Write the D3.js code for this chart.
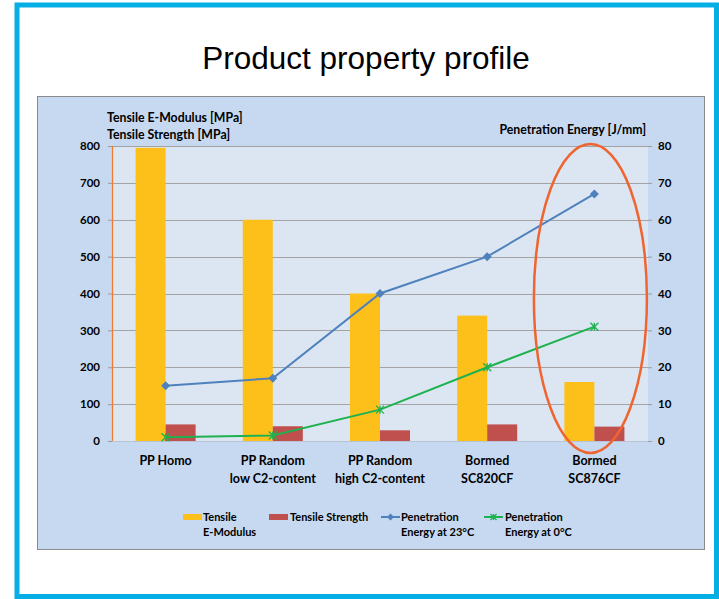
<!DOCTYPE html>
<html><head><meta charset="utf-8">
<script src="https://cdn.jsdelivr.net/npm/d3@7"></script>
<style>
html,body{margin:0;padding:0;background:#fff;}
svg{display:block;}
</style></head>
<body>
<svg id="c" width="719" height="599"></svg>
<script>
const categories = [["PP Homo"], ["PP Random","low C2-content"], ["PP Random","high C2-content"], ["Bormed","SC820CF"], ["Bormed","SC876CF"]];
const modulus = [795, 600, 400, 340, 160];
const strength = [45, 40, 29, 45, 39];
const pen23 = [15, 17, 40, 50, 67];
const pen0 = [1, 1.5, 8.5, 20, 31];
const leftTicks = [0,100,200,300,400,500,600,700,800];
const rightTicks = [0,10,20,30,40,50,60,70,80];

const FONT = "Lato, 'DejaVu Sans', sans-serif";
const svg = d3.select("#c");

// outer blue frame
svg.append("rect").attr("x",17).attr("y",5).attr("width",699.5).attr("height",591.5)
  .attr("fill","#fff").attr("stroke","#06aee6").attr("stroke-width",5);
svg.append("text").attr("x",366).attr("y",69).attr("text-anchor","middle")
  .attr("font-family","Arial, 'Liberation Sans', sans-serif").attr("font-size",31.5).attr("fill","#000")
  .text("Product property profile");

// chart panel
svg.append("rect").attr("x",37.5).attr("y",96.5).attr("width",667).attr("height",453)
  .attr("fill","#c6d9f1").attr("stroke","#8a8a8a").attr("stroke-width",1);

const L=112, R=648, T=146, B=441;
const x = d3.scaleBand().domain(d3.range(categories.length)).range([L,R]).paddingInner(0).paddingOuter(0);
const yL = d3.scaleLinear().domain([0,800]).range([B,T]);
const yR = d3.scaleLinear().domain([0,80]).range([B,T]);

svg.append("rect").attr("x",L).attr("y",T).attr("width",R-L).attr("height",B-T).attr("fill","#dce6f2");

// grid
svg.append("g").selectAll("line").data(leftTicks.slice(1)).join("line")
  .attr("x1",L).attr("x2",R).attr("y1",d=>Math.round(yL(d))+0.5).attr("y2",d=>Math.round(yL(d))+0.5)
  .attr("stroke","#a3a3a3").attr("stroke-width",1);

// axes
const axL = svg.append("g").attr("transform",`translate(${L},0)`)
  .call(d3.axisLeft(yL).tickValues(leftTicks).tickSize(4).tickPadding(8));
const axR = svg.append("g").attr("transform",`translate(${R},0)`)
  .call(d3.axisRight(yR).tickValues(rightTicks).tickSize(4).tickPadding(6));
[axL,axR].forEach(a=>{
  a.select(".domain").remove();
  a.selectAll(".tick line").attr("stroke","#9a9a9a");
  a.selectAll("text").attr("font-family",FONT).attr("font-weight",700).attr("font-size",11.5).attr("fill","#000");
});
svg.append("line").attr("x1",L+0.5).attr("x2",L+0.5).attr("y1",T).attr("y2",B).attr("stroke","#f07a2a").attr("stroke-width",1.2);
svg.append("line").attr("x1",L).attr("x2",R).attr("y1",B+0.5).attr("y2",B+0.5).attr("stroke","#b8c4d4").attr("stroke-width",1);

// bars
const bw = x.bandwidth()*0.28;
const cx = i => x(i)+x.bandwidth()/2;
svg.append("g").selectAll("rect").data(modulus).join("rect")
  .attr("x",(d,i)=>cx(i)-bw).attr("width",bw).attr("y",d=>yL(d)).attr("height",d=>B-yL(d)).attr("fill","#fdc01a");
svg.append("g").selectAll("rect").data(strength).join("rect")
  .attr("x",(d,i)=>cx(i)).attr("width",bw).attr("y",d=>yL(d)).attr("height",d=>B-yL(d)).attr("fill","#c0504d");

// lines
const line = d3.line().x((d,i)=>cx(i)).y(d=>yR(d));
svg.append("path").datum(pen23).attr("d",line).attr("fill","none").attr("stroke","#4f81bd").attr("stroke-width",2);
svg.append("path").datum(pen0).attr("d",line).attr("fill","none").attr("stroke","#1db24f").attr("stroke-width",2);

function diamond(g,px,py,s){
  g.append("path").attr("d",`M${px},${py-s}L${px+s},${py}L${px},${py+s}L${px-s},${py}Z`).attr("fill","#4f81bd");
}
function star(g,px,py,s){
  g.append("path").attr("d",`M${px-s},${py-s}L${px+s},${py+s}M${px-s},${py+s}L${px+s},${py-s}M${px},${py-s}L${px},${py+s}`)
    .attr("stroke","#1db24f").attr("stroke-width",1.3).attr("fill","none");
}
const mk = svg.append("g");
pen23.forEach((d,i)=>diamond(mk,cx(i),yR(d),4.5));
pen0.forEach((d,i)=>star(mk,cx(i),yR(d),4));

// category labels
const cl = svg.append("g").attr("font-family",FONT).attr("font-weight",700).attr("font-size",12.5).attr("text-anchor","middle");
categories.forEach((c,i)=>{
  c.forEach((t,j)=>cl.append("text").attr("x",cx(i)).attr("y",465+j*18).text(t));
});

// axis titles
const at = svg.append("g").attr("font-family",FONT).attr("font-weight",700).attr("font-size",12.3);
at.append("text").attr("x",107).attr("y",122).text("Tensile E-Modulus [MPa]");
at.append("text").attr("x",107).attr("y",139).text("Tensile Strength [MPa]");
at.append("text").attr("x",646).attr("y",134).attr("text-anchor","end").text("Penetration Energy [J/mm]");

// ellipse annotation
const last = categories.length-1;
svg.append("ellipse").attr("cx",cx(last)-4).attr("cy",(yL(0)+yL(800))/2+5)
  .attr("rx",56.5).attr("ry",(yL(0)-yL(800))/2+7)
  .attr("fill","none").attr("stroke","#f0642f").attr("stroke-width",2.5);

// legend
const lg = svg.append("g").attr("font-family",FONT).attr("font-weight",700).attr("font-size",11);
lg.append("rect").attr("x",183).attr("y",514).attr("width",19).attr("height",6).attr("fill","#fdc01a");
lg.append("text").attr("x",203).attr("y",520.5).text("Tensile");
lg.append("text").attr("x",203).attr("y",536).text("E-Modulus");
lg.append("rect").attr("x",269).attr("y",514).attr("width",19).attr("height",6).attr("fill","#c0504d");
lg.append("text").attr("x",290).attr("y",520.5).text("Tensile Strength");
lg.append("line").attr("x1",381).attr("x2",400).attr("y1",517).attr("y2",517).attr("stroke","#4f81bd").attr("stroke-width",2);
diamond(lg,390.5,517,3.5);
lg.append("text").attr("x",401).attr("y",520.5).text("Penetration");
lg.append("text").attr("x",401).attr("y",536).text("Energy at 23°C");
lg.append("line").attr("x1",484).attr("x2",503).attr("y1",517).attr("y2",517).attr("stroke","#1db24f").attr("stroke-width",2);
star(lg,493.5,517,3);
lg.append("text").attr("x",505).attr("y",520.5).text("Penetration");
lg.append("text").attr("x",505).attr("y",536).text("Energy at 0°C");
</script>
</body></html>
